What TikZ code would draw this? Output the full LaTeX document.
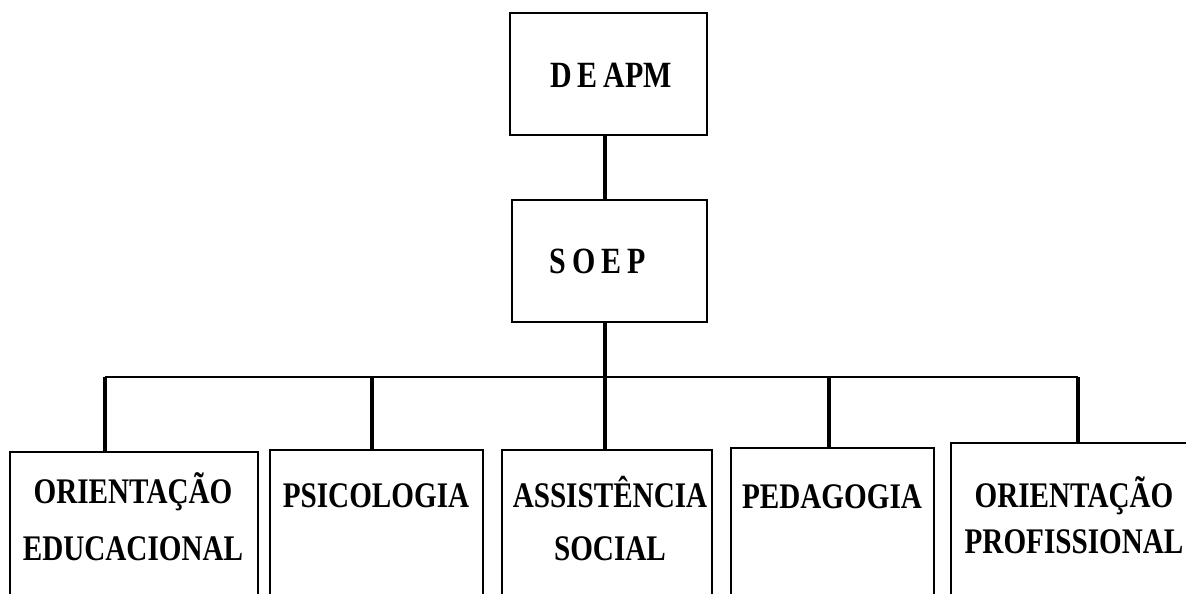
\documentclass[tikz,border=0pt]{standalone}
\usepackage{fontspec}
\setmainfont{Liberation Serif}[FakeStretch=0.81]
\begin{document}
\begin{tikzpicture}[x=1pt,y=-1pt,
  boxst/.style={draw,line width=2.2pt,inner sep=0pt,outer sep=0pt,anchor=north west},
  lbl/.style={inner sep=0pt,anchor=base,align=center,font=\fontsize{36}{57}\selectfont\bfseries},
  toplbl/.style={inner sep=0pt,anchor=base,font=\fontsize{37}{40}\selectfont\bfseries},
  thick conn/.style={line width=3.6pt},
  bar/.style={line width=2.2pt}]
\useasboundingbox (0,0) rectangle (1186,594);
\clip (0,0) rectangle (1186,594);
\fill[white] (0,0) rectangle (1186,594);
% top boxes
\node[boxst,minimum width=197pt,minimum height=122pt] (deapm) at (510,13) {};
\node[toplbl] (tdeapm) at (611,88) {D\kern6pt E\kern6pt APM};
\node[boxst,minimum width=195pt,minimum height=122pt] (soep) at (512,200) {};
\node[toplbl] (tsoep) at (597.5,273) {S\kern6pt O\kern6pt E\kern6pt P};
% bottom boxes
\node[boxst,minimum width=248pt,minimum height=200pt] (b1) at (10,452) {};
\node[boxst,minimum width=213pt,minimum height=200pt] (b2) at (270,450) {};
\node[boxst,minimum width=210pt,minimum height=200pt] (b3) at (502,450) {};
\node[boxst,minimum width=203pt,minimum height=200pt] (b4) at (731,448) {};
\node[boxst,minimum width=246pt,minimum height=200pt] (b5) at (951,443) {};
\node[lbl] (t1) at (133,560) {ORIENTAÇÃO\\EDUCACIONAL};
\node[lbl] (t2) at (376,507) {PSICOLOGIA};
\node[lbl,font=\fontsize{36}{53}\selectfont\bfseries] (t3) at (610,560) {ASSISTÊNCIA\\SOCIAL};
\node[lbl] (t4) at (832,508) {PEDAGOGIA};
\node[lbl,font=\fontsize{36}{46}\selectfont\bfseries] (t5) at (1074,553) {ORIENTAÇÃO\\PROFISSIONAL};
% connectors
\coordinate (barL) at (105,377);
\coordinate (barR) at (1078,377);
\coordinate (d1) at (105,377);
\coordinate (d2) at (372,377);
\coordinate (d4) at (829,377);
\coordinate (d5) at (1078,377);
\draw[thick conn] (605,135) coordinate (c1) -- (c1 |- soep.north);
\draw[thick conn] (605,322) coordinate (c2) -- (c2 |- b3.north);
\draw[bar] (barL) -- (barR);
\draw[thick conn] (d1) -- (d1 |- b1.north);
\draw[thick conn] (d2) -- (d2 |- b2.north);
\draw[thick conn] (d4) -- (d4 |- b4.north);
\draw[thick conn] (d5) -- (d5 |- b5.north);
\end{tikzpicture}
\end{document}
